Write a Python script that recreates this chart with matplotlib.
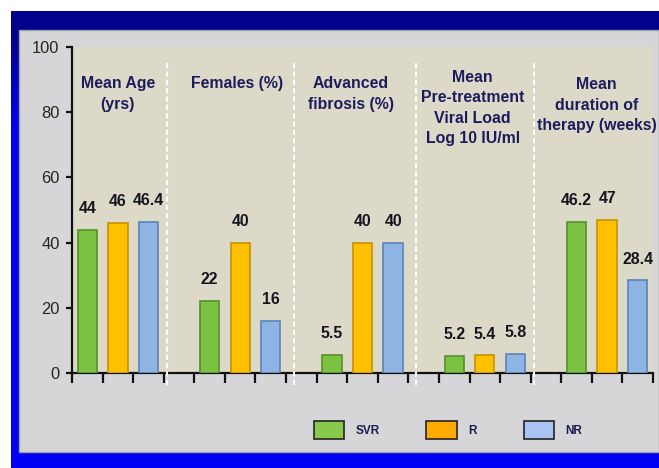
import numpy as np
import matplotlib
matplotlib.use('Agg')
import matplotlib.pyplot as plt
from matplotlib import font_manager
from matplotlib.patches import Patch, Rectangle

# data
groups = ['Mean Age\n(yrs)', 'Females (%)', 'Advanced\nfibrosis (%)',
          'Mean\nPre-treatment\nViral Load\nLog 10 IU/ml',
          'Mean\nduration of\ntherapy (weeks)']
svr = [44, 22, 5.5, 5.2, 46.2]
r = [46, 40, 40, 5.4, 47]
nr = [46.4, 16, 40, 5.8, 28.4]
series_names = ['SVR', 'R', 'NR']
yticks = [0, 20, 40, 60, 80, 100]

# font: narrow face if we have it
names = {f.name for f in font_manager.fontManager.ttflist}
if 'Liberation Sans Narrow' in names:
    face, k = 'Liberation Sans Narrow', 1.0
else:
    face, k = 'Liberation Sans', 0.82
plt.rcParams['font.family'] = [face, 'DejaVu Sans']

W, H = 659, 468
fig = plt.figure(figsize=(W / 100, H / 100), dpi=100)
fig.patch.set_facecolor('white')

# blue frame with a navy top, then the grey panel
bg = fig.add_axes([0, 0, 1, 1], zorder=-10)
bg.set_xlim(0, 1)
bg.set_ylim(0, 1)
bg.axis('off')
rows = np.arange(0, H - 11)
t = np.interp(rows, [0, 25, 120], [0.0, 0.0, 1.0])
top_c = np.array([0.0, 0.0, 0.55])
bot_c = np.array([0.0, 0.0, 0.95])
grad = (top_c[None, :] * (1 - t[:, None]) + bot_c[None, :] * t[:, None])[:, None, :]
bg.imshow(grad, extent=[11 / W, 1, 0, 1 - 11 / H], aspect='auto', origin='upper')
bg.add_patch(Rectangle((19 / W, 1 - 452 / H), 1 - 19 / W, (452 - 30) / H,
                       facecolor='#d6d6d8', edgecolor='#a0a0a8', lw=1))

ax = fig.add_axes([72 / W, 1 - 373 / H, (653 - 72) / W, (373 - 47) / H])
ax.set_facecolor('#dcd9c9')
ax.set_xlim(0, 19)
ax.set_ylim(0, 100)

face_cols = ['#7cc242', '#ffc000', '#8eb4e3']
edge_cols = ['#55902a', '#c89200', '#5c83b8']
for j, vals in enumerate([svr, r, nr]):
    x = [4 * i + j + 0.5 for i in range(len(groups))]
    bars = ax.bar(x, vals, width=0.63, color=face_cols[j], edgecolor=edge_cols[j],
                  linewidth=1.2, zorder=3)
    for b, v in zip(bars, vals):
        ax.annotate(f'{v:g}', (b.get_x() + b.get_width() / 2, v), xytext=(0, 10),
                    textcoords='offset points', ha='center', va='bottom',
                    fontsize=14 * k, fontweight='bold', color='#151520', zorder=4)

# group titles
title_dx = [0, -0.1, -0.38, -0.4, -0.34]
title_top = [91, 91, 91, 93, 90.7]
for i, g in enumerate(groups):
    ax.text(4 * i + 1.5 + title_dx[i], title_top[i], g, ha='center', va='top',
            fontsize=14 * k, fontweight='bold', color='#1c1c5c', linespacing=1.45)

# dashed white separators
for xs in [3.1, 7.25, 11.25, 15.1]:
    ax.axvline(xs, ymin=-0.037, ymax=0.955, color='white', lw=1.5,
               linestyle=(0, (2.5, 1.5)), clip_on=False, zorder=5)

for s in ['top', 'right']:
    ax.spines[s].set_visible(False)
for s in ['left', 'bottom']:
    ax.spines[s].set_linewidth(1.6)
    ax.spines[s].set_color('#111111')
ax.set_xticks(range(20))
ax.set_xticklabels([])
ax.tick_params(axis='x', direction='out', length=7, width=1.6, color='#111111')
ax.set_yticks(yticks)
ax.set_yticklabels([str(v) for v in yticks])
ax.tick_params(axis='y', direction='out', length=4, width=1.6, pad=5,
               labelsize=14.5 * k, labelcolor='#2a2420', color='#111111')

leg_face = ['#88c84a', '#ffaa00', '#aac4f5']
handles = [Patch(facecolor=c, edgecolor='#222222', linewidth=1.2) for c in leg_face]
leg = ax.legend(handles, series_names, loc='center', ncol=3, frameon=False,
                bbox_to_anchor=(448 / W, 1 - 430 / H), bbox_transform=fig.transFigure,
                handlelength=2.55, handleheight=1.87, handletextpad=1.0,
                columnspacing=3.95, prop={'size': 8.5, 'weight': 'bold'})
for txt in leg.get_texts():
    txt.set_color('#1c1c4c')

fig.savefig('out.png', dpi=100, facecolor='white')
